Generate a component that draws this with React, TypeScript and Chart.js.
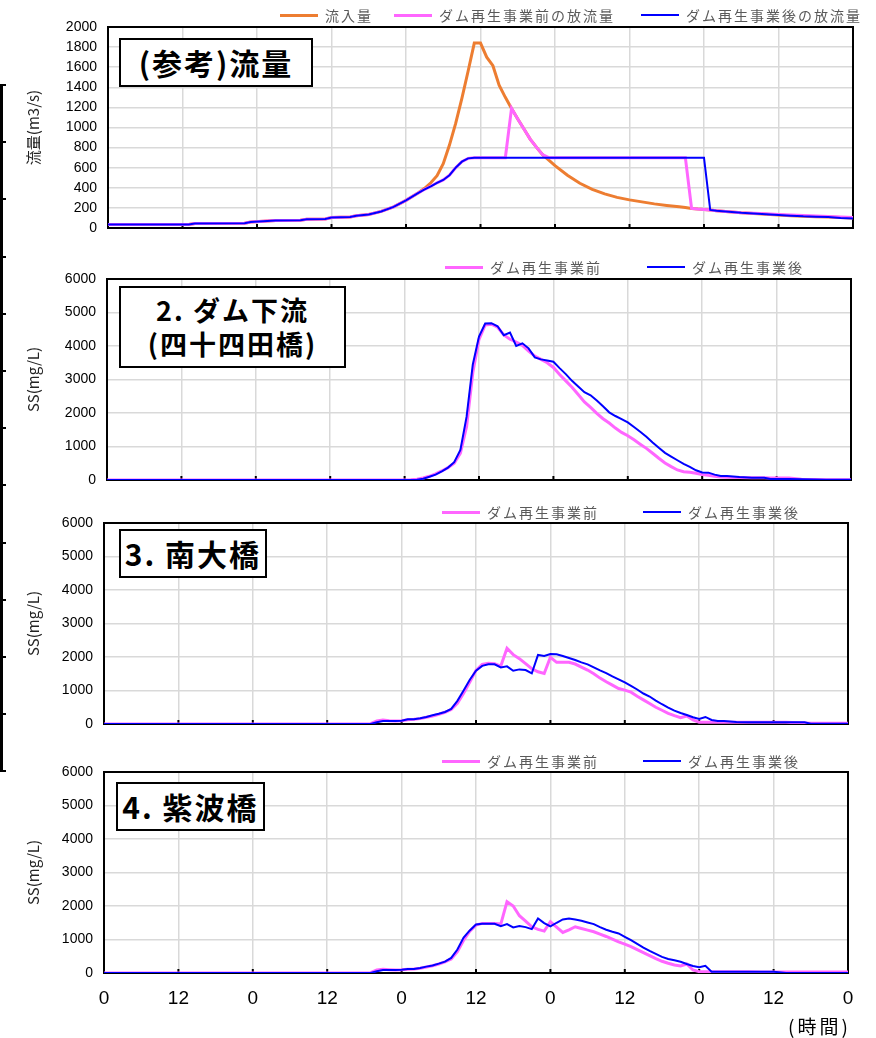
import React, { useEffect, useRef } from 'react';
import { Chart, registerables } from 'chart.js';

Chart.register(...registerables);

// ---------- data ----------
const X_TICK_LABELS = ['0', '12', '0', '12', '0', '12', '0', '12', '0', '12', '0'];

const LEGEND_Q = ['流入量', 'ダム再生事業前の放流量', 'ダム再生事業後の放流量'];
const LEGEND_SS = ['ダム再生事業前', 'ダム再生事業後'];

const Q_HOURS = [0, 13, 14, 22, 23, 27, 31, 32, 35, 36, 39, 40, 42, 44, 46, 48, 50, 51, 52, 53, 54, 55, 56, 57, 58, 59, 60, 61, 62, 63, 64, 65, 66, 67, 68, 69, 70, 71, 72, 74, 76, 78, 80, 82, 84, 86, 88, 90, 92, 93, 94, 95, 96, 97, 98, 100, 102, 104, 106, 108, 110, 112, 114, 116, 118, 120];
const Q_INFLOW = [35, 35, 45, 48, 60, 75, 78, 88, 90, 105, 110, 122, 135, 165, 210, 275, 350, 395, 450, 520, 640, 825, 1040, 1290, 1560, 1840, 1840, 1700, 1615, 1420, 1300, 1190, 1085, 985, 885, 805, 730, 675, 620, 525, 445, 385, 340, 305, 280, 260, 240, 225, 212, 205, 195, 188, 183, 178, 172, 162, 152, 145, 138, 130, 122, 116, 113, 110, 105, 100];
const Q_BEFORE = [35, 35, 45, 48, 60, 75, 78, 88, 90, 105, 110, 122, 135, 165, 210, 275, 350, 385, 415, 450, 478, 525, 600, 660, 693, 700, 700, 700, 700, 700, 700, 1190, 1085, 985, 885, 805, 730, 700, 700, 700, 700, 700, 700, 700, 700, 700, 700, 700, 700, 700, 195, 188, 183, 178, 172, 162, 152, 148, 142, 135, 130, 125, 120, 115, 110, 105];
const Q_AFTER = [35, 35, 45, 48, 60, 75, 78, 88, 90, 105, 110, 122, 135, 165, 210, 275, 350, 385, 415, 450, 478, 525, 600, 660, 693, 700, 700, 700, 700, 700, 700, 700, 700, 700, 700, 700, 700, 700, 700, 700, 700, 700, 700, 700, 700, 700, 700, 700, 700, 700, 700, 700, 700, 180, 172, 162, 152, 145, 138, 130, 122, 116, 113, 110, 100, 95];

const SS2_HOURS = [0, 48, 49, 50, 51, 52, 53, 54, 55, 56, 57, 58, 59, 60, 61, 62, 63, 64, 65, 66, 67, 68, 69, 70, 71, 72, 73, 74, 75, 76, 77, 78, 79, 80, 81, 82, 83, 84, 85, 86, 87, 88, 89, 90, 91, 92, 93, 94, 95, 96, 97, 98, 99, 100, 102, 104, 106, 107, 110, 112, 116, 120];
const SS2_BEFORE = [0, 0, 5, 20, 60, 110, 180, 270, 370, 500, 800, 1600, 3200, 4200, 4630, 4650, 4560, 4330, 4200, 4120, 4020, 3850, 3700, 3600, 3500, 3360, 3150, 2960, 2770, 2550, 2330, 2170, 1990, 1830, 1700, 1550, 1420, 1320, 1200, 1070, 945, 800, 650, 510, 400, 300, 249, 230, 200, 160, 140, 110, 90, 80, 75, 70, 65, 60, 60, 20, 10, 10];
const SS2_AFTER = [0, 0, 0, 5, 40, 95, 160, 260, 370, 530, 900, 1890, 3450, 4280, 4670, 4680, 4590, 4320, 4400, 4000, 4080, 3930, 3660, 3600, 3570, 3530, 3340, 3160, 2960, 2790, 2620, 2530, 2370, 2200, 2020, 1910, 1820, 1720, 1580, 1440, 1290, 1120, 960, 810, 700, 590, 480, 390, 290, 225, 219, 160, 120, 120, 90, 70, 70, 30, 30, 20, 10, 10];

const SS3_HOURS = [0, 42, 43, 44, 45, 46, 47, 48, 49, 50, 51, 52, 53, 54, 55, 56, 57, 58, 59, 60, 61, 62, 63, 64, 65, 66, 67, 68, 69, 70, 71, 72, 73, 74, 75, 76, 77, 78, 79, 80, 81, 82, 83, 84, 85, 86, 87, 88, 89, 90, 91, 92, 93, 94, 95, 96, 97, 98, 99, 100, 102, 104, 106, 110, 113, 114, 117, 120];
const SS3_BEFORE = [0, 0, 10, 90, 120, 100, 90, 100, 130, 140, 160, 200, 240, 290, 350, 430, 620, 920, 1250, 1600, 1780, 1810, 1800, 1730, 2260, 2070, 1950, 1800, 1650, 1560, 1510, 1990, 1840, 1840, 1840, 1790, 1700, 1610, 1500, 1370, 1260, 1160, 1060, 1010, 950, 830, 720, 610, 500, 410, 320, 250, 190, 240, 120, 50, 50, 50, 50, 50, 50, 50, 50, 50, 30, 20, 20, 20];
const SS3_AFTER = [0, 0, 0, 50, 90, 90, 90, 100, 140, 140, 170, 210, 260, 305, 360, 450, 690, 1000, 1320, 1590, 1735, 1780, 1780, 1690, 1720, 1590, 1630, 1610, 1510, 2060, 2030, 2090, 2080, 2030, 1970, 1910, 1840, 1780, 1690, 1600, 1520, 1420, 1330, 1240, 1140, 1030, 910, 820, 700, 590, 490, 400, 330, 270, 200, 150, 210, 120, 90, 90, 60, 50, 50, 50, 50, 5, 5, 5];

const SS4_HOURS = [0, 42, 43, 44, 45, 46, 47, 48, 49, 50, 51, 52, 53, 54, 55, 56, 57, 58, 59, 60, 61, 62, 63, 64, 65, 66, 67, 68, 69, 70, 71, 72, 73, 74, 75, 76, 77, 78, 79, 80, 81, 82, 83, 84, 85, 86, 87, 88, 89, 90, 91, 92, 93, 94, 95, 96, 97, 98, 99, 100, 102, 104, 106, 108, 110, 114, 117, 120];
const SS4_BEFORE = [0, 0, 10, 90, 110, 100, 90, 100, 115, 120, 140, 180, 215, 270, 330, 420, 640, 980, 1250, 1430, 1480, 1480, 1480, 1460, 2130, 2000, 1710, 1550, 1380, 1300, 1250, 1530, 1370, 1210, 1290, 1380, 1330, 1280, 1230, 1160, 1090, 1010, 930, 860, 790, 700, 610, 520, 430, 350, 290, 240, 210, 270, 90, 40, 40, 40, 40, 40, 40, 40, 30, 30, 30, 30, 30, 30];
const SS4_AFTER = [0, 0, 0, 50, 90, 90, 90, 100, 119, 119, 150, 190, 225, 280, 340, 450, 700, 1060, 1270, 1450, 1470, 1470, 1470, 1400, 1460, 1360, 1400, 1370, 1310, 1630, 1490, 1390, 1500, 1600, 1630, 1600, 1560, 1510, 1460, 1370, 1290, 1230, 1180, 1080, 980, 870, 760, 660, 570, 480, 420, 380, 335, 270, 210, 170, 215, 40, 40, 40, 40, 40, 40, 40, 0, 0, 0, 0];

// ---------- styles ----------
const ORANGE = '#ED7D31';
const PINK = '#FF66FF';
const BLUE = '#0000FF';
const GRID = '#d9d9d9';
const NUM_FONT = "'Liberation Sans', Arial, sans-serif";
const JP_FONT = "'Noto Sans CJK JP', 'Noto Sans', sans-serif";

const pts = (hours: number[], vals: number[]) => hours.map((h, i) => ({ x: h, y: vals[i] }));

const framePlugin = {
  id: 'frame',
  beforeDatasetsDraw(chart: any) {
    const { ctx, chartArea, scales } = chart;
    const { left, top, right, bottom } = chartArea;
    ctx.save();
    ctx.strokeStyle = '#000';
    ctx.lineWidth = 2;
    ctx.strokeRect(left, top, right - left, bottom - top);
    ctx.beginPath();
    scales.x.ticks.forEach((t: any) => {
      const x = scales.x.getPixelForValue(t.value);
      ctx.moveTo(x, bottom);
      ctx.lineTo(x, bottom - 4);
    });
    ctx.stroke();
    ctx.restore();
  },
};

type PanelProps = {
  top: number;
  height: number;
  plotTop: number;
  plotBottom: number;
  plotLeft: number;
  plotRight: number;
  datasets: any[];
  yMax: number;
  yStep: number;
  yTitle: string;
  showX: boolean;
};

function Panel(p: PanelProps) {
  const ref = useRef<HTMLCanvasElement>(null);
  useEffect(() => {
    const chart = new Chart(ref.current as HTMLCanvasElement, {
      type: 'line',
      data: { datasets: p.datasets },
      options: {
        animation: false,
        responsive: false,
        devicePixelRatio: 1,
        layout: { padding: { left: 20, right: 876 - p.plotRight, top: p.plotTop - p.top, bottom: 0 } },
        plugins: { legend: { display: false }, tooltip: { enabled: false } },
        elements: { point: { radius: 0 }, line: { tension: 0 } },
        scales: {
          x: {
            type: 'linear',
            min: 0,
            max: 120,
            afterFit: (s: any) => {
              s.height = p.top + p.height - p.plotBottom;
              s.paddingLeft = 0;
              s.paddingRight = 0;
            },
            ticks: {
              stepSize: 12,
              display: p.showX,
              autoSkip: false,
              maxRotation: 0,
              padding: 14,
              color: '#000',
              font: { family: NUM_FONT, size: 19 },
              callback: (_v: any, i: number) => X_TICK_LABELS[i],
            },
            grid: { color: GRID, lineWidth: 1.5, drawTicks: false },
            border: { display: false },
          },
          y: {
            min: 0,
            max: p.yMax,
            afterFit: (s: any) => {
              s.width = p.plotLeft - 20;
              s.paddingTop = 0;
              s.paddingBottom = 0;
            },
            ticks: {
              stepSize: p.yStep,
              padding: 11,
              color: '#000',
              font: { family: NUM_FONT, size: 14 },
              callback: (v: any) => String(v),
            },
            grid: { color: GRID, lineWidth: 1.5, drawTicks: false },
            border: { display: false },
            title: {
              display: true,
              text: p.yTitle,
              color: '#222',
              font: { family: JP_FONT, size: 15 },
              padding: { top: 4, bottom: 0 },
            },
          },
        },
      } as any,
      plugins: [framePlugin],
    });
    return () => chart.destroy();
  }, []);
  return (
    <canvas
      ref={ref}
      width={876}
      height={p.height}
      style={{ position: 'absolute', left: 0, top: p.top, width: 876, height: p.height }}
    />
  );
}

function LegendItem({ x, y, color, lw, text }: { x: number; y: number; color: string; lw: number; text: string }) {
  return (
    <>
      <div style={{ position: 'absolute', left: x, top: y - lw / 2, width: 38, height: lw, background: color }} />
      <div
        style={{
          position: 'absolute',
          left: x + 45,
          top: y - 9,
          height: 18,
          lineHeight: '18px',
          fontFamily: JP_FONT,
          fontSize: 14,
          letterSpacing: 2,
          color: '#595959',
          whiteSpace: 'nowrap',
        }}
      >
        {text}
      </div>
    </>
  );
}

function TitleBox({ left, top, width, height, lines, size }: { left: number; top: number; width: number; height: number; lines: string[]; size: number }) {
  return (
    <div
      style={{
        position: 'absolute',
        left,
        top,
        width,
        height,
        boxSizing: 'border-box',
        border: '2px solid #000',
        background: '#fff',
        display: 'flex',
        flexDirection: 'column',
        alignItems: 'center',
        justifyContent: 'center',
        fontFamily: JP_FONT,
        fontWeight: 700,
        fontSize: size,
        lineHeight: 1.25,
        letterSpacing: 2,
        color: '#000',
        whiteSpace: 'nowrap',
      }}
    >
      {lines.map((l) => (
        <div key={l}>{l}</div>
      ))}
    </div>
  );
}

export default function App() {
  const bracketTicks = Array.from({ length: 13 }, (_, k) => 85 + k * 57.2);
  return (
    <div style={{ position: 'absolute', left: 0, top: 0, width: 876, height: 1038, overflow: 'hidden', background: '#fff' }}>
      <Panel
        top={0}
        height={240}
        plotTop={27}
        plotBottom={228}
        plotLeft={108}
        plotRight={853}
        yMax={2000}
        yStep={200}
        yTitle="流量(m3/s)"
        showX={false}
        datasets={[
          { label: LEGEND_Q[2], data: pts(Q_HOURS, Q_AFTER), borderColor: BLUE, borderWidth: 2, order: 1 },
          { label: LEGEND_Q[1], data: pts(Q_HOURS, Q_BEFORE), borderColor: PINK, borderWidth: 3, order: 2 },
          { label: LEGEND_Q[0], data: pts(Q_HOURS, Q_INFLOW), borderColor: ORANGE, borderWidth: 3, order: 3 },
        ]}
      />
      <Panel
        top={245}
        height={245}
        plotTop={279}
        plotBottom={480}
        plotLeft={107}
        plotRight={851}
        yMax={6000}
        yStep={1000}
        yTitle="SS(mg/L)"
        showX={false}
        datasets={[
          { label: LEGEND_SS[1], data: pts(SS2_HOURS, SS2_AFTER), borderColor: BLUE, borderWidth: 2, order: 1 },
          { label: LEGEND_SS[0], data: pts(SS2_HOURS, SS2_BEFORE), borderColor: PINK, borderWidth: 3, order: 2 },
        ]}
      />
      <Panel
        top={495}
        height={240}
        plotTop={523}
        plotBottom={724}
        plotLeft={104}
        plotRight={848}
        yMax={6000}
        yStep={1000}
        yTitle="SS(mg/L)"
        showX={false}
        datasets={[
          { label: LEGEND_SS[1], data: pts(SS3_HOURS, SS3_AFTER), borderColor: BLUE, borderWidth: 2, order: 1 },
          { label: LEGEND_SS[0], data: pts(SS3_HOURS, SS3_BEFORE), borderColor: PINK, borderWidth: 3, order: 2 },
        ]}
      />
      <Panel
        top={745}
        height={293}
        plotTop={772}
        plotBottom={973}
        plotLeft={104}
        plotRight={848}
        yMax={6000}
        yStep={1000}
        yTitle="SS(mg/L)"
        showX={true}
        datasets={[
          { label: LEGEND_SS[1], data: pts(SS4_HOURS, SS4_AFTER), borderColor: BLUE, borderWidth: 2, order: 1 },
          { label: LEGEND_SS[0], data: pts(SS4_HOURS, SS4_BEFORE), borderColor: PINK, borderWidth: 3, order: 2 },
        ]}
      />

      {/* legends */}
      <LegendItem x={280} y={15} color={ORANGE} lw={3} text={LEGEND_Q[0]} />
      <LegendItem x={394} y={15} color={PINK} lw={3} text={LEGEND_Q[1]} />
      <LegendItem x={641} y={15} color={BLUE} lw={2} text={LEGEND_Q[2]} />

      <LegendItem x={445} y={267} color={PINK} lw={3} text={LEGEND_SS[0]} />
      <LegendItem x={647} y={267} color={BLUE} lw={2} text={LEGEND_SS[1]} />

      <LegendItem x={442} y={512} color={PINK} lw={3} text={LEGEND_SS[0]} />
      <LegendItem x={643} y={512} color={BLUE} lw={2} text={LEGEND_SS[1]} />

      <LegendItem x={442} y={761} color={PINK} lw={3} text={LEGEND_SS[0]} />
      <LegendItem x={643} y={761} color={BLUE} lw={2} text={LEGEND_SS[1]} />

      {/* panel titles */}
      <TitleBox left={119} top={38} width={194} height={49} lines={['(参考)流量']} size={30} />
      <TitleBox left={119} top={286} width={227} height={82} lines={['2. ダム下流', '(四十四田橋)']} size={27} />
      <TitleBox left={119} top={529} width={148} height={49} lines={['3. 南大橋']} size={30} />
      <TitleBox left={116} top={782} width={149} height={49} lines={['4. 紫波橋']} size={30} />

      {/* x unit */}
      <div
        style={{
          position: 'absolute',
          left: 788,
          top: 1015,
          lineHeight: '22px',
          fontFamily: JP_FONT,
          fontSize: 19,
          letterSpacing: 3,
          color: '#000',
          whiteSpace: 'nowrap',
        }}
      >
        (時間)
      </div>

      {/* cropped axis at the left edge */}
      <div style={{ position: 'absolute', left: 0, top: 85, width: 3, height: 687, background: '#000' }} />
      {bracketTicks.map((y) => (
        <div key={y} style={{ position: 'absolute', left: 0, top: y - 1, width: 6, height: 2, background: '#000' }} />
      ))}
    </div>
  );
}
